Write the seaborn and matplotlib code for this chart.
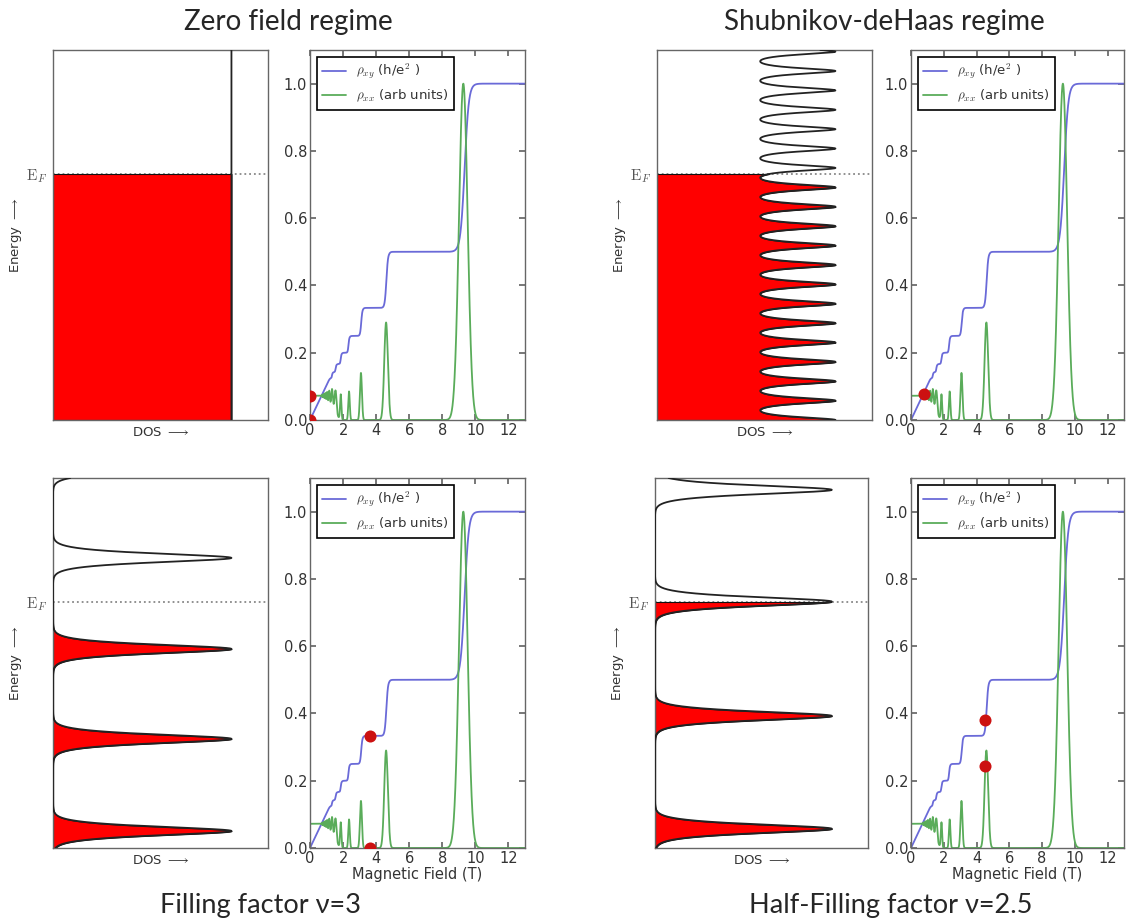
import numpy as np
import matplotlib
matplotlib.use('Agg')
import matplotlib.pyplot as plt
import seaborn as sns

# ---- values ----
fermi_level = 0.665            # E_F on the 0..1 energy axis
dos_peak = 0.83                # highest DOS, as a fraction of the panel width

# Landau levels (energy centres), filling factor 3 and 2.5
levels_nu3 = [0.046, 0.295, 0.538, 0.784, 1.03]
levels_nu25 = [0.052, 0.357, 0.666, 0.968]
level_width = 0.017

# Shubnikov-deHaas DOS: period, lowest DOS, peak sharpness
sdh_period = 0.0524
sdh_min = 0.48
sdh_sharpness = 0.3

# rho_xy staircase
xy_step_field = [9.35, 4.62, 3.1, 2.33, 1.86, 1.55, 1.33]
xy_step_width = [0.25, 0.1, 0.07, 0.05, 0.04, 0.035, 0.03]
xy_plateau = [1.0, 1 / 2, 1 / 3, 1 / 4, 1 / 5, 1 / 6, 1 / 7, 1 / 8]
hall_slope = 0.104

# rho_xx peaks
xx_peak_field = [9.27, 4.6, 3.08, 2.36, 1.86]
xx_peak_height = [1.0, 0.29, 0.14, 0.085, 0.075]
xx_peak_width = [0.26, 0.11, 0.06, 0.045, 0.04]
xx_zero_field = 0.072
sdh_frequency = 9.3
wiggle_start, wiggle_end = 0.65, 1.65
wiggle_amp = 0.03

# red markers (field, value) for each regime
dots_zero = ([0.0, 0.0], [0.072, 0.0])
dots_sdh = ([0.8], [0.078])
dots_nu3 = ([3.6, 3.6], [0.333, 0.0])
dots_nu25 = ([4.54, 4.54], [0.38, 0.245])

titles = ['Zero field regime', 'Shubnikov-deHaas regime']
captions = ['Filling factor ν=3', 'Half-Filling factor ν=2.5']

# ---- curves ----
energy = np.linspace(0, 1, 3000)
field = np.linspace(0.001, 13, 5000)


def landau_dos(centres):
    total = np.zeros_like(energy)
    for c in centres:
        d = (energy - c) / level_width
        total += np.exp(-0.5 * (d / 1.3) ** 2) / (1 + d ** 2)
    return dos_peak * total


def sdh_dos():
    r = sdh_sharpness
    phi = 2 * np.pi * energy / sdh_period
    p = (1 - r ** 2) / (1 - 2 * r * np.cos(phi) + r ** 2)
    pmin, pmax = (1 - r) / (1 + r), (1 + r) / (1 - r)
    return sdh_min + (dos_peak - sdh_min) * (p - pmin) / (pmax - pmin)


def hall():
    stair = np.full_like(field, xy_plateau[-1])
    for i, (b0, w) in enumerate(zip(xy_step_field, xy_step_width)):
        stair += (xy_plateau[i] - xy_plateau[i + 1]) * 0.5 * (1 + np.tanh((field - b0) / w))
    line = hall_slope * field
    k = 0.004  # soft minimum keeps the corners rounded
    return -k * np.logaddexp(-stair / k, -line / k)


def longitudinal():
    rho = np.zeros_like(field)
    for b0, h, w in zip(xx_peak_field, xx_peak_height, xx_peak_width):
        rho += h * np.exp(-0.5 * ((field - b0) / w) ** 2)
    ramp = np.clip((field - wiggle_start) / (wiggle_end - wiggle_start), 0, 1)
    fade = 1 / (1 + np.exp((field - wiggle_end) / 0.05))
    rho += fade * (xx_zero_field + wiggle_amp * ramp * np.cos(2 * np.pi * sdh_frequency / field))
    return rho


rho_xy = hall()
rho_xx = longitudinal()

# ---- style ----
sns.set_theme(style='ticks')
plt.rcParams['font.family'] = ['DejaVu Sans']
plt.rcParams['mathtext.fontset'] = 'cm'

fig = plt.figure(figsize=(11.26, 9.22), dpi=100)
W, H = 1126, 922
spine_col = '#666666'
text_col = '#333333'


def px_axes(x0, y0, x1, y1):
    return fig.add_axes([x0 / W, 1 - y1 / H, (x1 - x0) / W, (y1 - y0) / H])


def dos_panel(ax, dos):
    below = energy <= fermi_level
    ax.axhline(fermi_level, color='#888888', ls=':', lw=1.3, zorder=1)
    ax.fill_betweenx(energy[below], 0, dos[below], facecolor='#ff0000',
                     edgecolor='#111111', lw=0.8, zorder=2)
    sns.lineplot(x=dos, y=energy, orient='y', sort=False, estimator=None,
                 color='#222222', lw=1.3, ax=ax, zorder=3)
    ax.set_xlim(0, 1)
    ax.set_ylim(0, 1)
    ax.set_xticks([])
    ax.set_yticks([fermi_level])
    ax.set_yticklabels([r'$\mathrm{E}_F$'], fontsize=11, color='#555555')
    ax.tick_params(axis='y', length=0, pad=4)
    ax.set_xlabel(r'DOS $\longrightarrow$', fontsize=9.5, color=text_col, labelpad=4)
    ax.set_ylabel(r'Energy $\longrightarrow$', fontsize=9.5, color=text_col, labelpad=2)
    for s in ax.spines.values():
        s.set_color(spine_col)
        s.set_linewidth(1)


def transport_panel(ax, dots, xlabel=True):
    sns.lineplot(x=field, y=rho_xy, color='#6a6ad8', lw=1.3, ax=ax,
                 label=r'$\rho_{xy}$ (h/e$^2$ )')
    sns.lineplot(x=field, y=rho_xx, color='#5aac5a', lw=1.3, ax=ax,
                 label=r'$\rho_{xx}$ (arb units)')
    sns.scatterplot(x=dots[0], y=dots[1], color='#cc1111', s=75,
                    linewidth=0, ax=ax, zorder=5)
    ax.set_xlim(0, 13)
    ax.set_ylim(0, 1.1)
    ax.set_xticks(range(0, 13, 2))
    ax.set_yticks([0.0, 0.2, 0.4, 0.6, 0.8, 1.0])
    ax.tick_params(direction='in', top=True, right=True, length=4,
                   color=spine_col, labelcolor=text_col, labelsize=10.5, pad=2)
    leg = ax.legend(loc='upper left', fontsize=9.5, fancybox=False,
                    edgecolor='black', framealpha=1, handlelength=1.8,
                    borderaxespad=0.5)
    leg.get_frame().set_linewidth(1.2)
    for t in leg.get_texts():
        t.set_color(text_col)
    if xlabel:
        ax.set_xlabel('Magnetic Field (T)', fontsize=10.5, color=text_col, labelpad=1)
    for s in ax.spines.values():
        s.set_color(spine_col)
        s.set_linewidth(1)


# top row
ax = px_axes(53, 50, 268, 420)
dos_panel(ax, np.full_like(energy, dos_peak))
ax = px_axes(310, 50, 525, 420)
transport_panel(ax, dots_zero, xlabel=False)

ax = px_axes(657, 50, 872, 420)
dos_panel(ax, sdh_dos())
ax = px_axes(911, 50, 1124, 420)
transport_panel(ax, dots_sdh, xlabel=False)

# bottom row
ax = px_axes(53, 478, 268, 848)
dos_panel(ax, landau_dos(levels_nu3))
ax = px_axes(310, 478, 525, 848)
transport_panel(ax, dots_nu3)

ax = px_axes(655, 478, 868, 848)
dos_panel(ax, landau_dos(levels_nu25))
ax = px_axes(911, 478, 1124, 848)
transport_panel(ax, dots_nu25)

title_font = ['Lato', 'DejaVu Sans']
fig.text(288 / W, 1 - 22 / H, titles[0], ha='center', va='center', fontsize=20, family=title_font)
fig.text(884 / W, 1 - 22 / H, titles[1], ha='center', va='center', fontsize=20, family=title_font)
fig.text(260 / W, 1 - 905 / H, captions[0], ha='center', va='center', fontsize=19.5, family=title_font)
fig.text(891 / W, 1 - 905 / H, captions[1], ha='center', va='center', fontsize=19.5, family=title_font)

fig.savefig('out.png', dpi=100, facecolor='white')
